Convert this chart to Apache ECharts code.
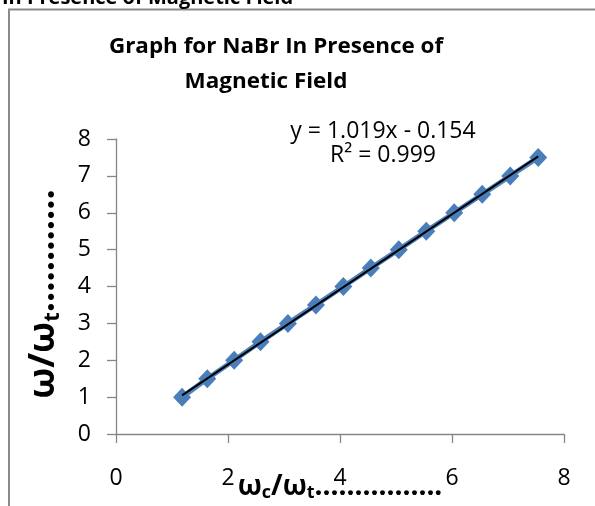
<!DOCTYPE html>
<html>
<head>
<meta charset="utf-8">
<script src="https://cdn.jsdelivr.net/npm/echarts@6/dist/echarts.min.js"></script>
<style>
html,body{margin:0;padding:0;background:#fff;}
#chart{width:595px;height:506px;}
</style>
</head>
<body>
<div id="chart"></div>
<script>
// ---- data ----
const xValues = [1.18, 1.63, 2.11, 2.58, 3.07, 3.57, 4.06, 4.55, 5.05, 5.54, 6.04, 6.54, 7.04, 7.54];
const yValues = [1, 1.5, 2, 2.5, 3, 3.5, 4, 4.5, 5, 5.5, 6, 6.5, 7, 7.5];
const trendSlope = 1.019;
const trendIntercept = -0.154;
const xTicks = [0, 2, 4, 6, 8];
const yTicks = [0, 1, 2, 3, 4, 5, 6, 7, 8];
const titleLine1 = 'Graph for NaBr In Presence of';
const titleLine2 = 'Magnetic Field';
const captionText = 'In Presence of Magnetic Field';
const equationText = 'y = 1.019x - 0.154\nR² = 0.999';

const points = xValues.map((x, i) => [x, yValues[i]]);
const xMin = Math.min(...xValues), xMax = Math.max(...xValues);
const trendPoints = [xMin, xMax].map(x => [x, trendSlope * x + trendIntercept]);

const FONT = '"Open Sans", "DejaVu Sans", sans-serif';
const AXIS_GRAY = '#868686';

const chart = echarts.init(document.getElementById('chart'));
chart.setOption({
  animation: false,
  backgroundColor: '#fff',
  grid: { left: 116, right: 31, top: 139, bottom: 72, outerBoundsMode: 'none', containLabel: false },
  xAxis: {
    type: 'value', min: xTicks[0], max: xTicks[xTicks.length - 1], interval: 2,
    splitLine: { show: false },
    axisLine: { lineStyle: { color: AXIS_GRAY, width: 1.3 } },
    axisTick: { show: true, length: 9, lineStyle: { color: AXIS_GRAY, width: 1.3 } },
    axisLabel: { fontFamily: FONT, fontSize: 23, color: '#000', margin: 33 },
    name: '{m|ω}{s|c}{m|/ω}{s|t}{m|................}',
    nameLocation: 'middle',
    nameGap: 38,
    nameMoveOverlap: false,
    nameTextStyle: {
      rich: {
        m: { fontFamily: FONT, fontSize: 28, fontWeight: 'bold', color: '#000', lineHeight: 30 },
        s: { fontFamily: FONT, fontSize: 18, fontWeight: 'bold', color: '#000', lineHeight: 10, verticalAlign: 'bottom' }
      }
    }
  },
  yAxis: {
    type: 'value', min: yTicks[0], max: yTicks[yTicks.length - 1], interval: 1,
    splitLine: { show: false },
    axisLine: { show: true, lineStyle: { color: AXIS_GRAY, width: 1.3 } },
    axisTick: { show: true, length: 9, lineStyle: { color: AXIS_GRAY, width: 1.3 } },
    axisLabel: { fontFamily: FONT, fontSize: 23, color: '#000', margin: 25 },
    name: '{m|ω/ω}{s|t}{m|............}',
    nameLocation: 'middle',
    nameGap: 52,
    nameMoveOverlap: false,
    nameTextStyle: {
      padding: [0, 15, 0, 0],
      rich: {
        m: { fontFamily: FONT, fontSize: 36, fontWeight: 'bold', color: '#000', lineHeight: 40 },
        s: { fontFamily: FONT, fontSize: 22, fontWeight: 'bold', color: '#000', lineHeight: 18, verticalAlign: 'bottom' }
      }
    }
  },
  series: [
    {
      type: 'line',
      data: points,
      symbol: 'diamond',
      symbolSize: [18, 19],
      itemStyle: { color: '#4A7EBB' },
      lineStyle: { color: '#4F81BD', width: 5 },
      z: 2
    },
    {
      type: 'line',
      data: trendPoints,
      symbol: 'none',
      lineStyle: { color: '#000', width: 2 },
      z: 3
    }
  ],
  graphic: [
    {
      type: 'rect', silent: true,
      shape: { x: 9, y: 9.5, width: 900, height: 900 },
      style: { fill: 'none', stroke: '#8a8a8a', lineWidth: 2 }
    },
    {
      type: 'text', x: 2, y: 8, silent: true,
      style: { text: captionText, font: 'bold 20px ' + FONT, fill: '#000', align: 'left', verticalAlign: 'bottom' }
    },
    {
      type: 'text', x: 276, y: 47, scaleX: 1.02, silent: true,
      style: { text: titleLine1, font: 'bold 22px ' + FONT, fill: '#000', align: 'center', verticalAlign: 'middle' }
    },
    {
      type: 'text', x: 266, y: 82, scaleX: 1.02, silent: true,
      style: { text: titleLine2, font: 'bold 22px ' + FONT, fill: '#000', align: 'center', verticalAlign: 'middle' }
    },
    {
      type: 'text', x: 383, y: 143, silent: true,
      style: { text: equationText, font: '23px ' + FONT, lineHeight: 24, fill: '#000', align: 'center', verticalAlign: 'middle' }
    }
  ]
});
</script>
</body>
</html>
